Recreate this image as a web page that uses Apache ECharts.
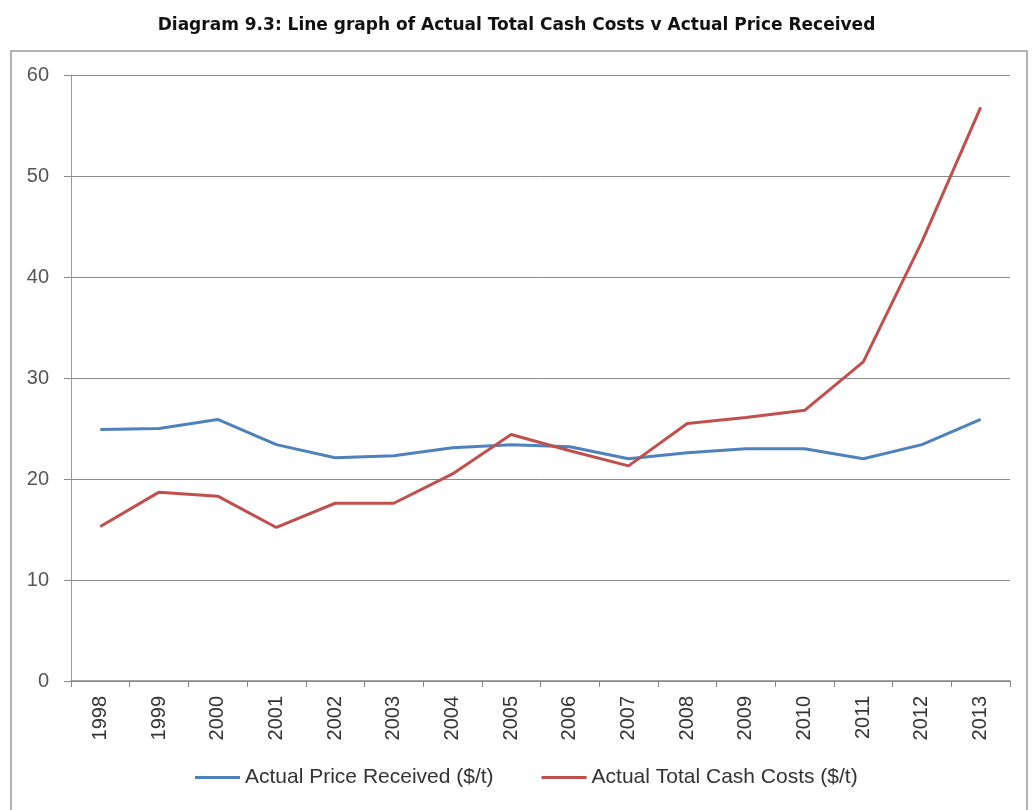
<!DOCTYPE html>
<html>
<head>
<meta charset="utf-8">
<script src="https://cdn.jsdelivr.net/npm/echarts@6/dist/echarts.min.js"></script>
<style>
html,body{margin:0;padding:0;background:#fff;}
#chart{width:1033px;height:810px;}
</style>
</head>
<body>
<div id="chart"></div>
<script>
var years = ['1998','1999','2000','2001','2002','2003','2004','2005','2006','2007','2008','2009','2010','2011','2012','2013'];
var priceReceived = [24.9, 25.0, 25.9, 23.4, 22.1, 22.3, 23.1, 23.4, 23.2, 22.0, 22.6, 23.0, 23.0, 22.0, 23.4, 25.9];
var cashCosts = [15.3, 18.7, 18.3, 15.2, 17.6, 17.6, 20.5, 24.4, 22.8, 21.3, 25.5, 26.1, 26.8, 31.6, 43.5, 56.8];
var seriesNames = ['Actual Price Received ($/t)', 'Actual Total Cash Costs ($/t)'];
var titleText = 'Diagram 9.3: Line graph of Actual Total Cash Costs v Actual Price Received';

var chart = echarts.init(document.getElementById('chart'), null, {renderer:'canvas'});
chart.setOption({
  backgroundColor:'#ffffff',
  animation:false,
  title:{
    text:titleText,
    left:'center',
    top:12,
    textStyle:{fontFamily:'DejaVu Sans, Verdana, sans-serif',fontWeight:'bold',fontSize:17,color:'#111'}
  },
  graphic:[{
    type:'rect',
    shape:{x:11,y:51,width:1016,height:800},
    style:{fill:'none',stroke:'#9a9a9a',lineWidth:1.5},
    silent:true
  }],
  legend:{
    bottom:17,
    left:190,
    itemWidth:45,
    itemHeight:3,
    itemGap:48,
    icon:'rect',
    textStyle:{fontFamily:'Liberation Sans, Arial, sans-serif',fontSize:21,color:'#333'},
    data:seriesNames
  },
  grid:{left:71,right:23,top:75,bottom:129,containLabel:false},
  xAxis:{
    type:'category',
    data:years,
    boundaryGap:true,
    axisLine:{show:true,lineStyle:{color:'#888',width:1.5}},
    axisTick:{show:true,alignWithLabel:false,length:6,lineStyle:{color:'#888'}},
    axisLabel:{rotate:90,margin:15,fontFamily:'Liberation Sans, Arial, sans-serif',fontSize:20,color:'#333'}
  },
  yAxis:{
    type:'value',
    min:0,max:60,interval:10,
    axisLine:{show:true,lineStyle:{color:'#999',width:1}},
    axisTick:{show:true,length:7,lineStyle:{color:'#888'}},
    axisLabel:{margin:22,fontFamily:'Liberation Sans, Arial, sans-serif',fontSize:20,color:'#555'},
    splitLine:{show:true,lineStyle:{color:'#8a8a8a',width:1}}
  },
  series:[
    {name:seriesNames[0],type:'line',data:priceReceived,symbol:'none',lineStyle:{color:'#4F81BD',width:3},itemStyle:{color:'#4F81BD'}},
    {name:seriesNames[1],type:'line',data:cashCosts,symbol:'none',lineStyle:{color:'#C0504D',width:3},itemStyle:{color:'#C0504D'}}
  ]
});
</script>
</body>
</html>
